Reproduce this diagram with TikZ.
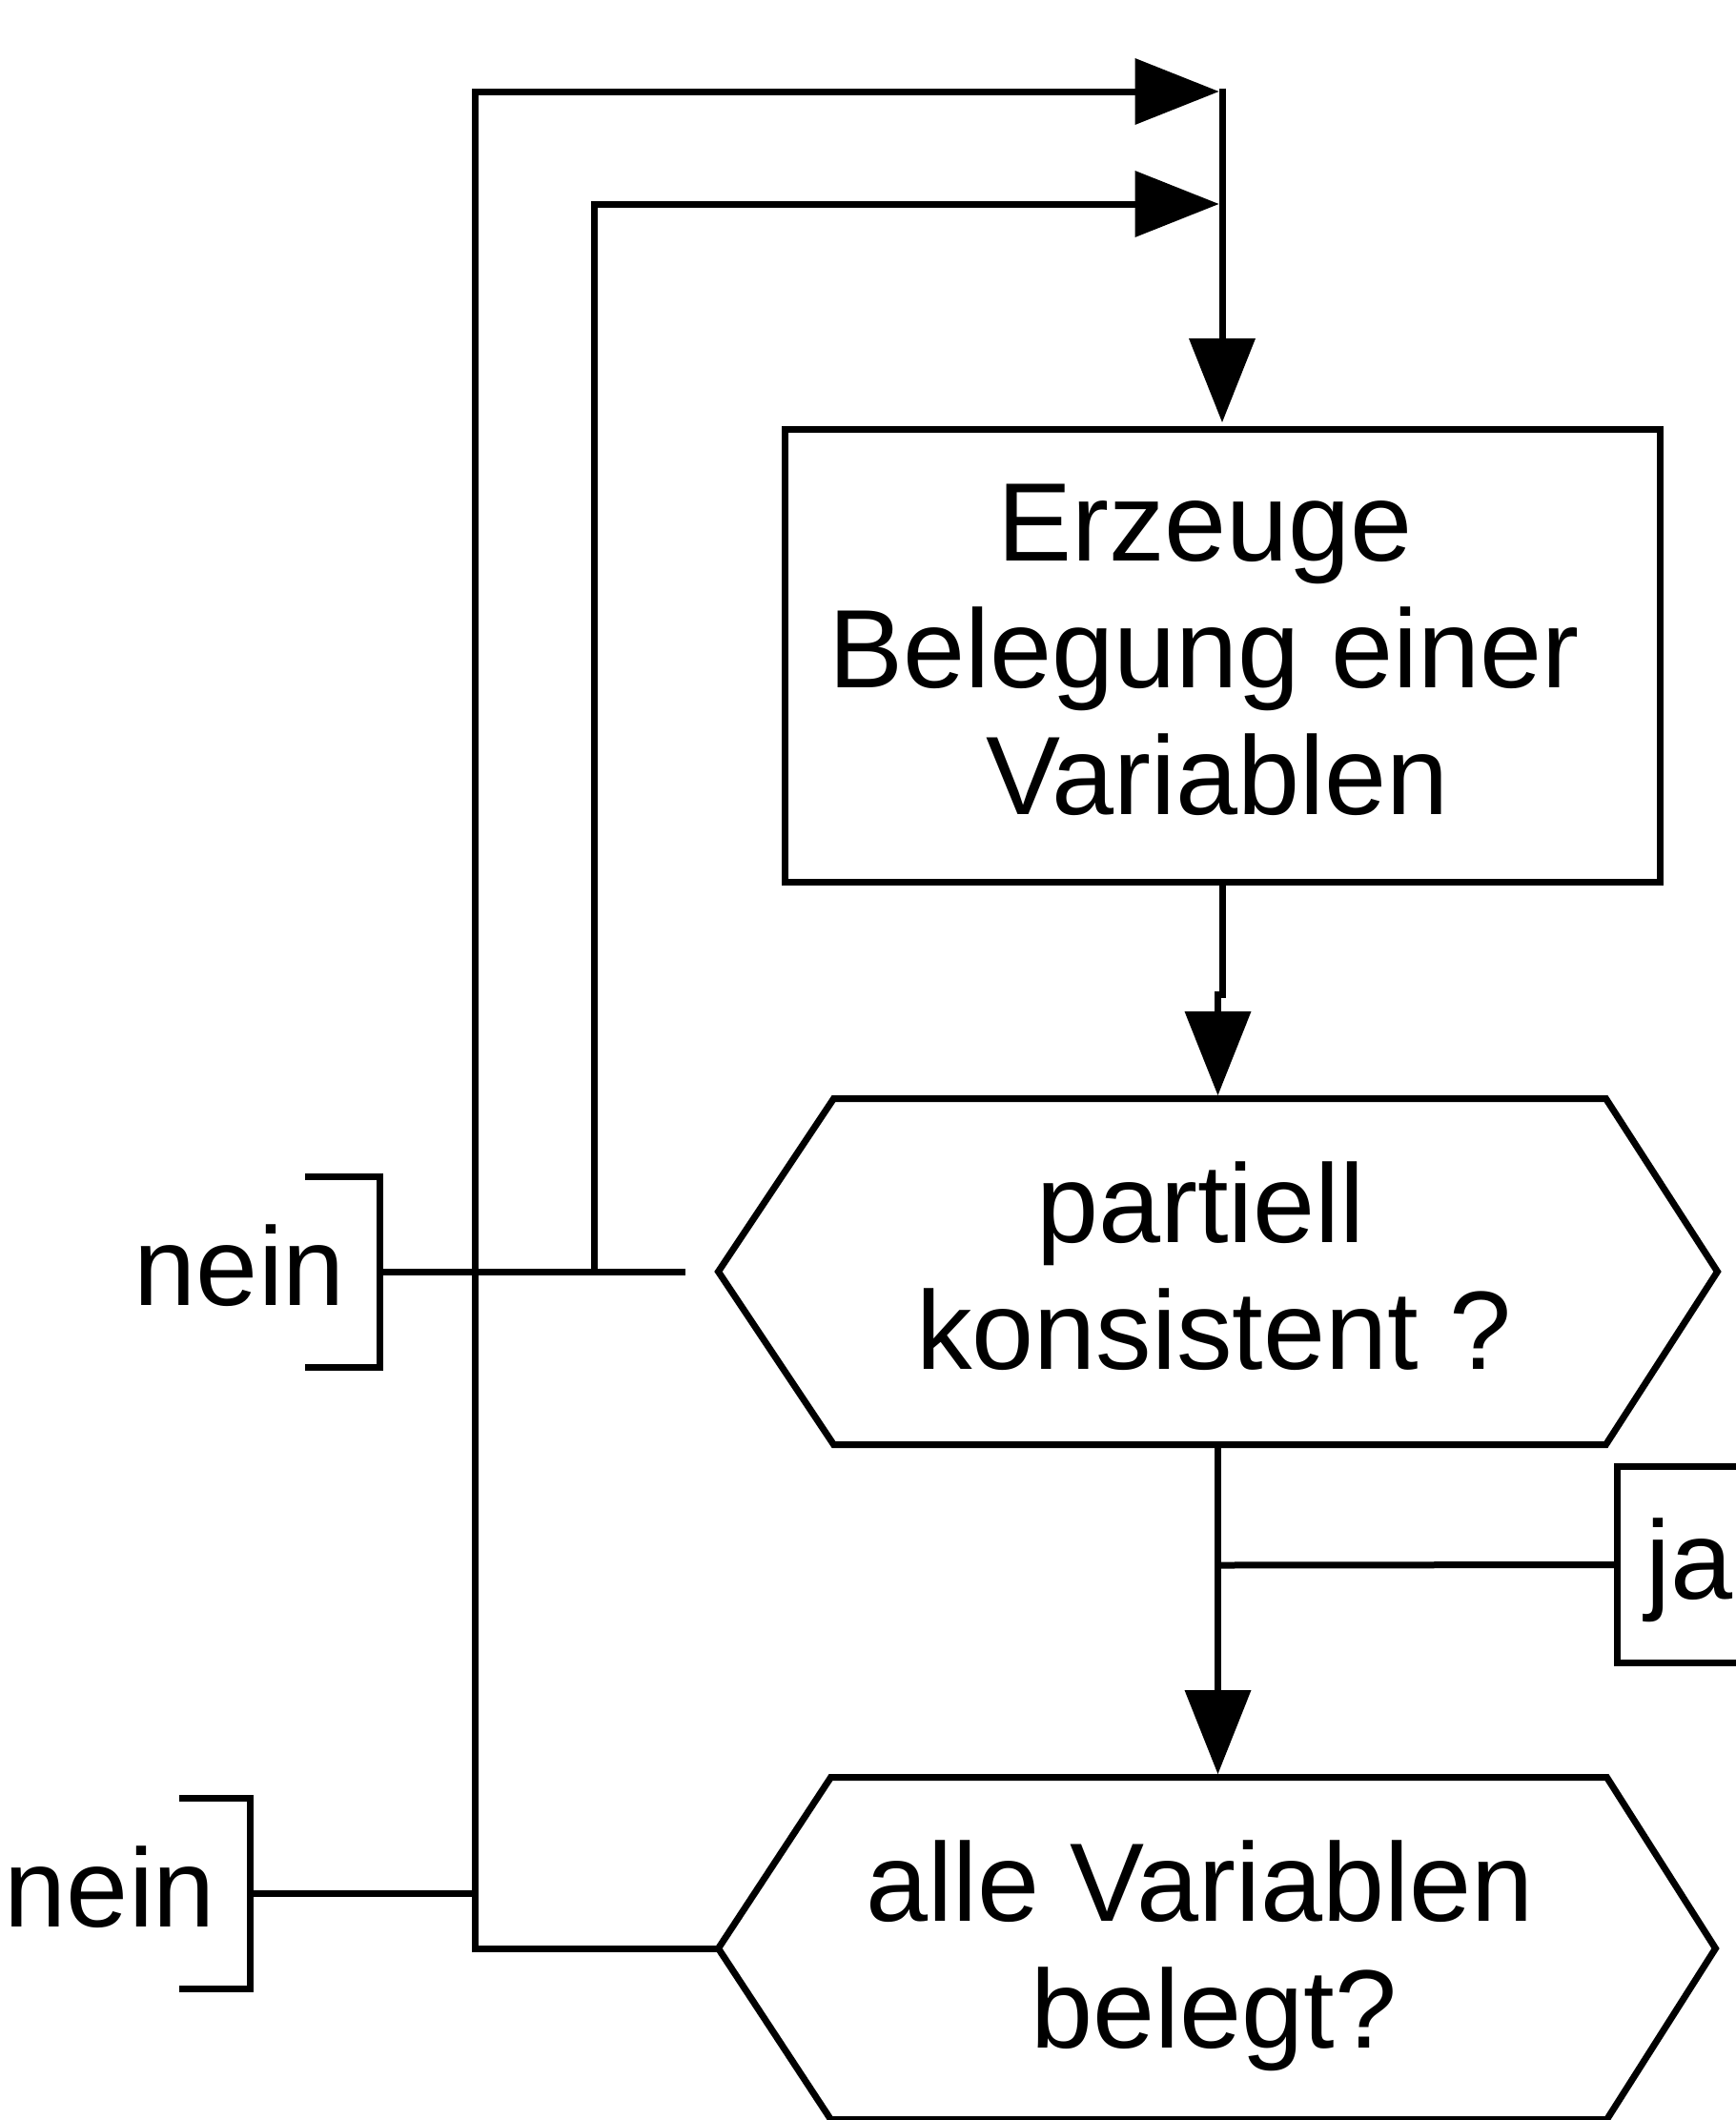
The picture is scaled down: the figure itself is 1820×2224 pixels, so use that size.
\documentclass[tikz,border=0pt]{standalone}
\usepackage{fontspec}
\setmainfont{Liberation Sans}
\usetikzlibrary{arrows.meta,calc}
\begin{document}
\begin{tikzpicture}[x=1pt,y=-1pt,line width=7pt,
  txtfont/.style={font=\fontsize{117}{133}\selectfont},
  procbox/.style={draw,rectangle,minimum width=918pt,minimum height=475pt,inner sep=0pt,align=center,txtfont},
  hexnode/.style={rectangle,inner sep=0pt,align=center,txtfont},
  hexline/.style={line join=miter},
  lbl/.style={inner sep=0pt,txtfont,text height=70pt,text depth=0pt},
  arr/.style={-{Triangle[length=88pt,width=70pt,line width=0pt]},shorten >=3.5pt},
]
\useasboundingbox (0,0) rectangle (1820,2224);

% nodes
\node[procbox] (gen) at (1282,687.5) {Erzeuge\kern36pt\\Belegung einer\kern38pt\\Variablen\kern10pt\rule[-12pt]{0pt}{12pt}};
\node[hexnode,minimum width=1041pt,minimum height=356pt] (h1) at (1277.5,1334) {partiell\kern36pt\\konsistent ?\kern8pt\rule[-12pt]{0pt}{12pt}};
\node[hexnode,minimum width=1039pt,minimum height=352pt] (h2) at (1276.5,2044) {\rule{0pt}{100pt}alle Variablen\kern36pt\\belegt?\kern6pt};
\node[inner xsep=27pt,inner ysep=0pt,anchor=west,minimum height=199pt,txtfont,text height=81.6pt,text depth=10pt] (ja) at (1696,1641.5) {ja};
\node[lbl] (n1) at (251.5,1334) {nein};
\node[lbl] (n2) at (115.5,1986) {nein};

% hexagons
\draw[hexline] (h1.west) -- ([xshift=121pt]h1.north west) -- ([xshift=-117pt]h1.north east) -- (h1.east)
  -- ([xshift=-117pt]h1.south east) -- ([xshift=121pt]h1.south west) -- cycle;
\draw[hexline] (h2.west) -- ([xshift=118pt]h2.north west) -- ([xshift=-114pt]h2.north east) -- (h2.east)
  -- ([xshift=-114pt]h2.south east) -- ([xshift=118pt]h2.south west) -- cycle;

% coordinates
\coordinate (m1) at (1282,96);
\coordinate (m2) at (1282,214);
\coordinate (b1) at (398,1334);
\coordinate (j1) at (623,1334);
\coordinate (b2) at (262,1986);
\coordinate (j0) at (498,1986);
\coordinate (jaj) at (1277.5,1642);

% brackets
\draw ([shift={(-78,-100)}]b1) -- ([shift={(0,-100)}]b1) -- ([shift={(0,100)}]b1) -- ([shift={(-78,100)}]b1);
\draw ([shift={(-74,-100)}]b2) -- ([shift={(0,-100)}]b2) -- ([shift={(0,100)}]b2) -- ([shift={(-74,100)}]b2);
\draw ([xshift=160pt]ja.north west) -- (ja.north west) -- (ja.south west) -- ([xshift=160pt]ja.south west);

% connectors
\draw[arr] ([yshift=3.5pt]m1) -- (gen.north);
\draw[arr] (gen.south) -- ++(0,115) -| (h1.north);
\draw[arr] (h1.south) -- (h1.south |- h2.north);
\draw (jaj) -- (ja.west);
\draw (b1) -- ([xshift=-35pt]h1.west);
\draw[arr] (j1) |- (m2);
\draw[arr] (h2.west) -| (j0) |- (m1);
\draw (b2) -- (j0);
\end{tikzpicture}
\end{document}
